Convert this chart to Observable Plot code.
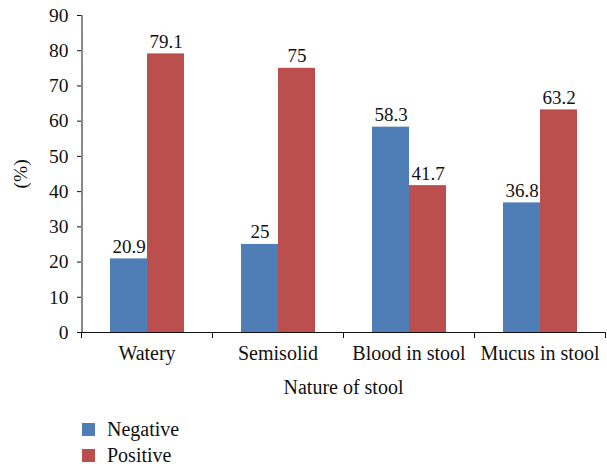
<!DOCTYPE html>
<html><head><meta charset="utf-8">
<script src="https://cdn.jsdelivr.net/npm/d3@7"></script>
<script src="https://cdn.jsdelivr.net/npm/@observablehq/plot@0.6"></script>
<style>
html,body{margin:0;padding:0;background:#fff;}
body{font-family:"Liberation Serif",serif;width:607px;height:467px;overflow:hidden;}
svg, svg text{font-family:"Liberation Serif",serif !important;}
#legend{position:relative;height:67px;}
.item{position:absolute;left:82px;height:13px;display:flex;align-items:center;font-size:20px;color:#111;white-space:nowrap;font-family:"Liberation Serif",serif;}
.sw{width:13px;height:13px;margin-right:12px;flex:none;}
</style></head><body>
<div id="chart"></div>
<div id="legend"></div>
<script>
const categories = ["Watery", "Semisolid", "Blood in stool", "Mucus in stool"];
const seriesNames = ["Negative", "Positive"];
const negative = [20.9, 25, 58.3, 36.8];
const positive = [79.1, 75, 41.7, 63.2];
const yTicks = [0, 10, 20, 30, 40, 50, 60, 70, 80, 90];
const colors = ["#4F7DB5", "#BA4F4D"];
const serif = "Liberation Serif";

const data = categories.flatMap((c, i) => [
  {category: c, series: seriesNames[0], value: negative[i]},
  {category: c, series: seriesNames[1], value: positive[i]}
]);

const chart = Plot.plot({
  width: 607,
  height: 400,
  marginLeft: 80,
  marginRight: 1,
  marginTop: 15,
  marginBottom: 68,
  style: {fontFamily: serif, fontSize: "19px", color: "#111", background: "white", overflow: "visible"},
  fx: {domain: categories, padding: 0},
  x: {domain: seriesNames, paddingInner: 0, paddingOuter: 0.75, axis: null},
  y: {domain: [0, 90]},
  color: {domain: seriesNames, range: colors},
  marks: [
    Plot.barY(data, {fx: "category", x: "series", y: "value", fill: "series"}),
    Plot.text(data, {fx: "category", x: "series", y: "value", text: d => String(d.value), dy: -6, lineAnchor: "bottom", fontSize: 19, fontFamily: serif, fill: "#111"}),
    Plot.ruleY([0], {stroke: "#111"}),
    Plot.frame({anchor: "left", insetTop: 317, insetBottom: -5, stroke: "#111"}),
    Plot.frame({anchor: "right", insetTop: 317, insetBottom: -5, stroke: "#111"}),
    Plot.ruleX([categories[0]], {fx: d => d, x: () => seriesNames[0], y1: 0, y2: 90, dx: -47, stroke: "#111"}),
    Plot.axisY(yTicks, {tickSize: 4, tickPadding: 9, label: "(%)", labelAnchor: "center", labelArrow: "none", labelOffset: 68, stroke: "#111", fontSize: 19.5, fontFamily: serif}),
    Plot.axisFx({anchor: "bottom", tickSize: 0, tickPadding: 13, label: "Nature of stool", labelAnchor: "center", labelArrow: "none", labelOffset: 61, fontSize: 20, fontFamily: serif})
  ]
});
document.getElementById("chart").appendChild(chart);

const legend = document.getElementById("legend");
seriesNames.forEach((s, i) => {
  const item = document.createElement("div");
  item.className = "item";
  item.style.top = (23 + i * 26) + "px";
  const sw = document.createElement("span");
  sw.className = "sw";
  sw.style.background = colors[i];
  const label = document.createElement("span");
  label.textContent = s;
  item.appendChild(sw);
  item.appendChild(label);
  legend.appendChild(item);
});
</script>
</body></html>
